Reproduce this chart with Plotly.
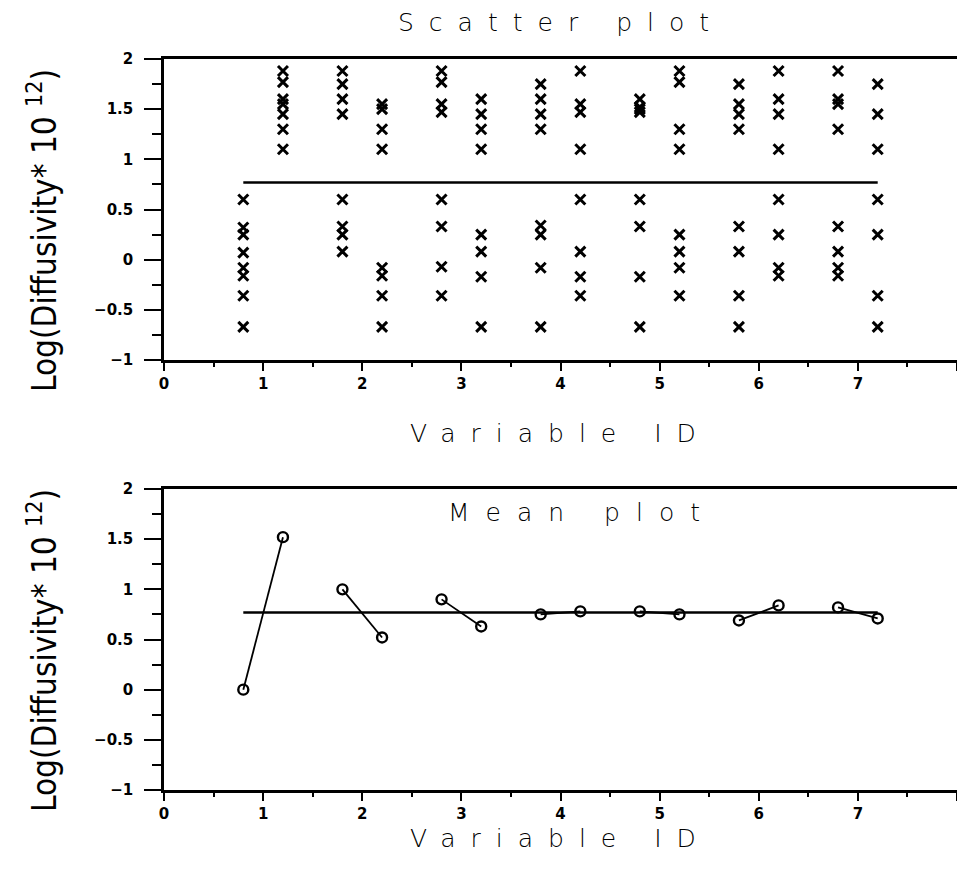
import plotly.graph_objects as go

# ---------------- data ----------------
group_x = [0.8, 1.2, 1.8, 2.2, 2.8, 3.2, 3.8, 4.2, 4.8, 5.2, 5.8, 6.2, 6.8, 7.2]
group_values = [
    [0.60, 0.32, 0.25, 0.07, -0.08, -0.16, -0.36, -0.67],
    [1.88, 1.77, 1.60, 1.55, 1.45, 1.30, 1.10],
    [1.88, 1.75, 1.60, 1.45, 0.60, 0.33, 0.25, 0.08],
    [1.55, 1.50, 1.30, 1.10, -0.08, -0.16, -0.36, -0.67],
    [1.88, 1.77, 1.55, 1.47, 0.60, 0.33, -0.07, -0.36],
    [1.60, 1.45, 1.30, 1.10, 0.25, 0.08, -0.17, -0.67],
    [1.75, 1.60, 1.45, 1.30, 0.34, 0.25, -0.08, -0.67],
    [1.88, 1.55, 1.47, 1.10, 0.60, 0.08, -0.17, -0.36],
    [1.60, 1.52, 1.50, 1.47, 0.60, 0.33, -0.17, -0.67],
    [1.88, 1.77, 1.30, 1.10, 0.25, 0.08, -0.08, -0.36],
    [1.75, 1.55, 1.45, 1.30, 0.33, 0.08, -0.36, -0.67],
    [1.88, 1.60, 1.45, 1.10, 0.60, 0.25, -0.08, -0.16],
    [1.88, 1.60, 1.55, 1.30, 0.33, 0.08, -0.08, -0.16],
    [1.75, 1.45, 1.10, 0.60, 0.25, -0.36, -0.67],
]
group_means = [0.00, 1.52, 1.00, 0.52, 0.90, 0.63, 0.75, 0.78, 0.78, 0.75, 0.69, 0.84, 0.82, 0.71]
grand_mean = 0.77
pairs = [(0, 1), (2, 3), (4, 5), (6, 7), (8, 9), (10, 11), (12, 13)]

x_tickvals = [0, 1, 2, 3, 4, 5, 6, 7, 8]
x_ticktext = ["0", "1", "2", "3", "4", "5", "6", "7", "8"]
y_tickvals = [-1, -0.5, 0, 0.5, 1, 1.5, 2]
y_ticktext = ["\u22121", "\u22120.5", "0", "0.5", "1", "1.5", "2"]

# ---------------- figure ----------------
fig = go.Figure()

sx, sy = [], []
for gx, vals in zip(group_x, group_values):
    for v in vals:
        sx.append(gx)
        sy.append(v)

fig.add_trace(go.Scatter(
    x=sx, y=sy, mode="markers", xaxis="x", yaxis="y",
    marker=dict(symbol="x-thin", size=10, line=dict(width=3, color="black"), color="black"),
    showlegend=False, hoverinfo="x+y"))

fig.add_trace(go.Scatter(
    x=[group_x[0], group_x[-1]], y=[grand_mean, grand_mean], mode="lines",
    xaxis="x", yaxis="y", line=dict(color="black", width=2.5), showlegend=False))

for a, b in pairs:
    fig.add_trace(go.Scatter(
        x=[group_x[a], group_x[b]], y=[group_means[a], group_means[b]],
        mode="lines+markers", xaxis="x2", yaxis="y2",
        line=dict(color="black", width=1.8),
        marker=dict(symbol="circle-open", size=10, color="black", line=dict(width=2.4, color="black")),
        showlegend=False))

fig.add_trace(go.Scatter(
    x=[group_x[0], group_x[-1]], y=[grand_mean, grand_mean], mode="lines",
    xaxis="x2", yaxis="y2", line=dict(color="black", width=2.5), showlegend=False))

tickfont = dict(family="DejaVu Sans", size=15, color="black", weight="bold")

def xaxis_cfg(anchor):
    return dict(
        range=[0, 8], tickvals=x_tickvals, ticktext=x_ticktext, anchor=anchor,
        showline=True, linecolor="black", linewidth=2.5, mirror=True,
        ticks="outside", ticklen=8, tickwidth=2, tickcolor="black",
        minor=dict(dtick=0.5, ticks="outside", ticklen=4, tickwidth=2, tickcolor="black"),
        showgrid=False, zeroline=False, tickfont=tickfont, ticklabelstandoff=0)

def yaxis_cfg(anchor, domain):
    return dict(
        range=[-1, 2], tickvals=y_tickvals, ticktext=y_ticktext, anchor=anchor, domain=domain,
        showline=True, linecolor="black", linewidth=2.5,
        ticks="outside", ticklen=17, tickwidth=2, tickcolor="black",
        minor=dict(dtick=0.25, ticks="outside", ticklen=9, tickwidth=2, tickcolor="black"),
        showgrid=False, zeroline=False, tickfont=tickfont, ticklabelstandoff=8)

H = 874
top_px, bot_px = 59, 790
ph = bot_px - top_px

def frac(py):
    return (bot_px - py) / ph

fig.update_layout(
    width=957, height=874,
    margin=dict(l=164, r=0, t=top_px, b=H - bot_px),
    paper_bgcolor="white", plot_bgcolor="white",
    xaxis=xaxis_cfg("y"),
    yaxis=yaxis_cfg("x", [frac(360), 1]),
    xaxis2=xaxis_cfg("y2"),
    yaxis2=yaxis_cfg("x2", [0, frac(489)]),
)

title_font = dict(family="DejaVu Sans", size=25, color="black", weight=300)
ytitle_font = dict(family="DejaVu Sans Condensed", size=33, color="black")

def spaced(t, sp):
    return '<span style="letter-spacing:%dpx">%s</span>' % (sp, t)

ann = [
    dict(text=spaced("Scatter plot", 15), x=561, y=22, font=title_font),
    dict(text=spaced("Mean plot", 16), x=582, y=512, font=title_font),
    dict(text=spaced("Variable ID", 15), x=560, y=433, font=title_font),
    dict(text=spaced("Variable ID", 15), x=560, y=838, font=title_font),
]
annotations = []
for a in ann:
    annotations.append(dict(
        text=a["text"], xref="paper", yref="paper",
        x=(a["x"] - 164) / (957 - 164), y=frac(a["y"]),
        showarrow=False, font=a["font"], xanchor="center", yanchor="middle"))

ytitle = "Log(Diffusivity* 10 <sup>12</sup>)"
for cy in (231, 651):
    annotations.append(dict(
        text=ytitle, xref="paper", yref="paper",
        x=(42 - 164) / (957 - 164), y=frac(cy), textangle=-90,
        showarrow=False, font=ytitle_font, xanchor="center", yanchor="middle"))

fig.update_layout(annotations=annotations)

fig.write_html("out.html")
